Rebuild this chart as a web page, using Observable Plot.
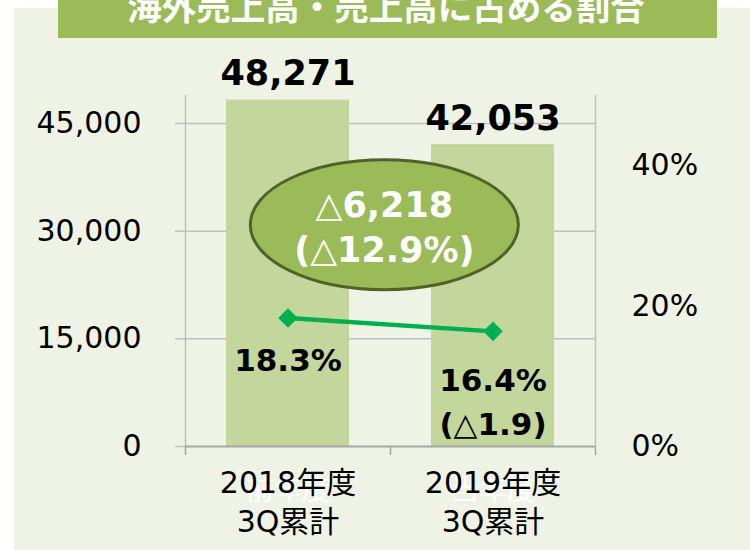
<!DOCTYPE html>
<html>
<head>
<meta charset="utf-8">
<script src="https://cdn.jsdelivr.net/npm/d3@7"></script>
<script src="https://cdn.jsdelivr.net/npm/@observablehq/plot@0.6"></script>
<style>
  body { margin: 0; background: #ffffff; }
  #wrap { position: relative; width: 750px; height: 550px; overflow: hidden; background: #ffffff; }
  #bg { position: absolute; left: 14px; top: 8px; right: 0; bottom: 0; background: #eff3e5; }
  #chart { position: absolute; left: 0; top: 0; }
  #title { position: absolute; left: 0; top: 0; }
</style>
</head>
<body>
<div id="wrap">
  <div id="bg"></div>
  <div id="chart"></div>
  <svg id="title" width="750" height="40"></svg>
</div>
<script>
// ---- data ----
const titleText = "海外売上高・売上高に占める割合";
const categories = ["2018年度\n3Q累計", "2019年度\n3Q累計"];
const ghostLabels = ["前年度", "当年度"];
const sales = [48271, 42053];          // 海外売上高 (left axis)
const shares = [0.183, 0.164];         // 売上高に占める割合 (right axis)
const leftTicks = [0, 15000, 30000, 45000];
const rightTicks = [0, 0.2, 0.4];

// ---- layout / style constants ----
const Y_MAX = 48900;      // top of plot area on the left axis
const PCT_MAX = 0.5;      // top of plot area on the right axis
const toY = p => p / PCT_MAX * Y_MAX;
const fromY = v => v / Y_MAX * PCT_MAX;
const BAR_HALF = 0.3;
const FONT = "'DejaVu Sans', 'Noto Sans CJK JP', sans-serif";
const GRID = "#c0c0c0", AXIS = "#a6a6a6";
const BAR = "#c3d69b", LINE = "#00b050";
const ELL_FILL = "#9bbb59", ELL_STROKE = "#4f6228";
const ANNOT = {x: 0.97, y: 30900};
const ELL_ASPECT = 65 / 134;

const rows = categories.map((c, i) => ({i, c, ghost: ghostLabels[i], sales: sales[i], share: shares[i]}));
const fmtInt = d3.format(",");
const fmtPct1 = d3.format(".1%");
rows.forEach((d, i) => {
  d.shareLabel = fmtPct1(d.share) + (i > 0 ? "\n(△" + d3.format(".1f")((rows[i - 1].share - d.share) * 100) + ")" : "");
});
const diff = sales[0] - sales[1];
const annText = "△" + fmtInt(diff) + "\n(△" + fmtPct1(diff / sales[0]) + ")";

const ellipseSymbol = {
  draw(context, size) {
    const rx = Math.sqrt(size / Math.PI), ry = rx * ELL_ASPECT, k = 0.5522847498;
    context.moveTo(rx, 0);
    context.bezierCurveTo(rx, k * ry, k * rx, ry, 0, ry);
    context.bezierCurveTo(-k * rx, ry, -rx, k * ry, -rx, 0);
    context.bezierCurveTo(-rx, -k * ry, -k * rx, -ry, 0, -ry);
    context.bezierCurveTo(k * rx, -ry, rx, -k * ry, rx, 0);
    context.closePath();
  }
};
const mid = d => d.i + 0.5;
const shareText = {x: mid, y: d => toY(d.share), text: "shareLabel", lineAnchor: "top", fontSize: 31, lineHeight: 1.42, fontWeight: "bold", fill: "#000"};

const chart = Plot.plot({
  width: 750,
  height: 550,
  marginLeft: 185,
  marginRight: 155,
  marginTop: 95,
  marginBottom: 104,
  style: {background: "transparent", fontFamily: FONT, overflow: "visible", color: "#000"},
  x: {domain: [0, categories.length], label: null},
  y: {domain: [0, Y_MAX], label: null},
  marks: [
    Plot.gridY(leftTicks.filter(d => d > 0), {stroke: GRID, strokeOpacity: 1, strokeWidth: 1.5}),
    Plot.rectY(rows, {x1: d => mid(d) - BAR_HALF, x2: d => mid(d) + BAR_HALF, y1: 0, y2: d => d.sales, fill: BAR}),
    Plot.ruleX([0, categories.length], {y1: 0, y2: Y_MAX, stroke: GRID, strokeWidth: 1.5}),
    Plot.ruleY([0], {stroke: AXIS, strokeWidth: 1.8}),
    Plot.axisY({ticks: leftTicks, tickSize: 10, tickPadding: 34, tickFormat: fmtInt, fontSize: 30, stroke: GRID, strokeWidth: 1.5, fill: "#000", label: null}),
    Plot.axisY({anchor: "right", ticks: rightTicks.map(toY), tickSize: 0, tickPadding: 36, tickFormat: v => Math.round(fromY(v) * 100) + "%", fontSize: 30, fill: "#000", label: null}),
    Plot.axisX({ticks: d3.range(categories.length + 1), tickSize: 9, tickFormat: () => "", stroke: AXIS, strokeWidth: 1.5, label: null}),
    Plot.text(rows, {x: mid, y: 0, text: "ghost", dy: 45, fontSize: 28, fill: "#ffffff"}),
    Plot.text(rows, {x: mid, y: 0, text: "c", lineAnchor: "top", dy: 18, fontSize: 30, lineHeight: 1.32, fill: "#000"}),
    Plot.text(rows, {x: mid, y: d => d.sales, text: d => fmtInt(d.sales), dy: -26, fontSize: 35, fontWeight: "bold", fill: "#000"}),
    Plot.line(rows, {x: mid, y: d => toY(d.share), stroke: LINE, strokeWidth: 4.5}),
    Plot.dot(rows, {x: mid, y: d => toY(d.share), symbol: "diamond2", r: 8.8, fill: LINE, stroke: "none"}),
    Plot.text(rows, {...shareText, filter: d => d.i === 0, dy: 22}),
    Plot.text(rows, {...shareText, filter: d => d.i > 0, dy: 28}),
    Plot.dot([ANNOT], {x: "x", y: "y", symbol: ellipseSymbol, r: 134, fill: ELL_FILL, stroke: ELL_STROKE, strokeWidth: 3}),
    Plot.text([ANNOT], {x: "x", y: "y", text: () => annText, fontSize: 35, lineHeight: 1.3, fontWeight: "bold", fill: "#ffffff"})
  ]
});
document.getElementById("chart").appendChild(chart);

// title banner
const t = d3.select("#title");
t.append("rect").attr("x", 58).attr("y", 0).attr("width", 659).attr("height", 38).attr("fill", "#9bbb59");
t.append("text").attr("x", 386).attr("y", 20).attr("text-anchor", "middle")
  .attr("font-family", "'Noto Sans CJK JP', sans-serif").attr("font-weight", "bold")
  .attr("font-size", 34.5).attr("fill", "#ffffff").text(titleText);
</script>
</body>
</html>
